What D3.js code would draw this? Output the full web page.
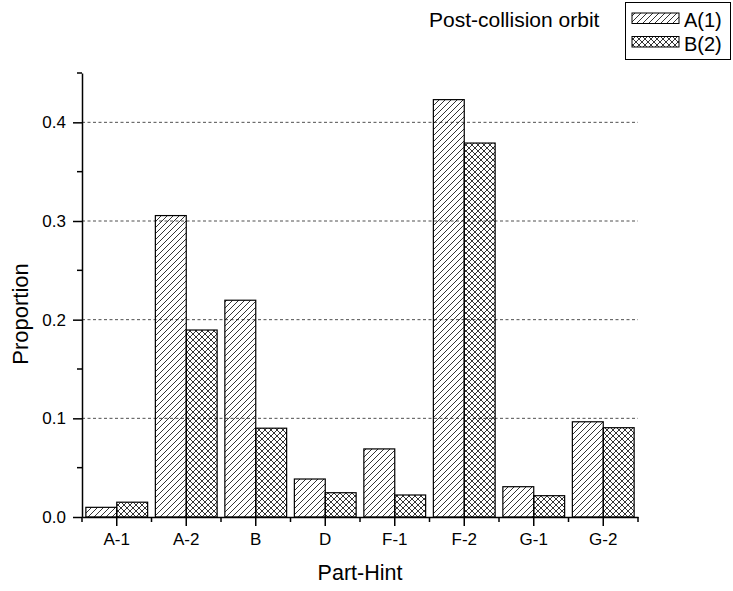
<!DOCTYPE html>
<html>
<head>
<meta charset="utf-8">
<script src="https://cdn.jsdelivr.net/npm/d3@7"></script>
<style>
  body { margin: 0; background: #fff; }
  text { font-family: Arial, "Liberation Sans", sans-serif; fill: #000; }
</style>
</head>
<body>
<div class="chart"></div>
<script>
// data
let categories = ['A-1', 'A-2', 'B', 'D', 'F-1', 'F-2', 'G-1', 'G-2'];
let seriesNames = ['A(1)', 'B(2)'];
let valuesA = [0.0098, 0.3055, 0.2197, 0.0385, 0.0690, 0.4230, 0.0307, 0.0965];
let valuesB = [0.0150, 0.1895, 0.0900, 0.0246, 0.0223, 0.3790, 0.0216, 0.0905];
let yTicks = [0.0, 0.1, 0.2, 0.3, 0.4];
let yMinorTicks = [0.05, 0.15, 0.25, 0.35, 0.45];
let legendTitle = 'Post-collision orbit';

let W = 733, H = 591;
let margin = { top: 73, right: 95, bottom: 74, left: 82 };
let width = W - margin.left - margin.right;
let height = H - margin.top - margin.bottom;

let root = d3.select('.chart')
  .append('svg')
    .attr('width', W)
    .attr('height', H);

// hatch patterns
let defs = root.append('defs');
let pA = defs.append('pattern')
  .attr('id', 'hatchA')
  .attr('patternUnits', 'userSpaceOnUse')
  .attr('width', 6).attr('height', 6);
pA.append('path')
  .attr('d', 'M-1,1 l2,-2 M0,6 l6,-6 M5,7 l2,-2')
  .attr('stroke', '#000').attr('stroke-width', 0.8);

let pB = defs.append('pattern')
  .attr('id', 'hatchB')
  .attr('patternUnits', 'userSpaceOnUse')
  .attr('width', 6).attr('height', 6);
pB.append('path')
  .attr('d', 'M-1,1 l2,-2 M0,6 l6,-6 M5,7 l2,-2 M-1,5 l2,2 M0,0 l6,6 M5,-1 l2,2')
  .attr('stroke', '#000').attr('stroke-width', 0.8);

let fills = ['url(#hatchA)', 'url(#hatchB)'];

let svg = root.append('g')
  .attr('transform', `translate(${margin.left}, ${margin.top})`);

let xScale = d3.scaleBand()
  .domain(categories)
  .range([0, width]);

let xInner = d3.scaleBand()
  .domain(seriesNames)
  .range([0, xScale.bandwidth()])
  .paddingOuter(0.125);

let yScale = d3.scaleLinear()
  .domain([0, 0.45])
  .range([height, 0]);

// dashed grid
svg.selectAll('.grid')
  .data(yTicks.slice(1))
  .enter().append('line')
    .attr('x1', 0).attr('x2', width)
    .attr('y1', d => yScale(d)).attr('y2', d => yScale(d))
    .attr('stroke', '#222')
    .attr('stroke-width', 0.8)
    .attr('stroke-dasharray', '3,2.5');

// bars
let series = [valuesA, valuesB];
let rows = [];
categories.forEach((c, i) => {
  seriesNames.forEach((s, j) => rows.push({ cat: c, s: s, j: j, v: series[j][i] }));
});

svg.selectAll('.bar')
  .data(rows)
  .enter().append('rect')
    .attr('x', d => xScale(d.cat) + xInner(d.s))
    .attr('y', d => yScale(d.v))
    .attr('width', xInner.bandwidth())
    .attr('height', d => height - yScale(d.v))
    .attr('fill', d => fills[d.j])
    .attr('stroke', '#000')
    .attr('stroke-width', 1.2);

// y axis
let yAxis = d3.axisLeft(yScale)
  .tickValues(yTicks)
  .tickFormat(d3.format('.1f'))
  .tickSizeInner(9)
  .tickSizeOuter(0)
  .tickPadding(7);
let gy = svg.append('g').call(yAxis);
gy.select('.domain').attr('stroke-width', 1.5);
gy.selectAll('.tick line').attr('stroke-width', 1.5);
gy.selectAll('.tick text').style('font-size', '17px');
gy.selectAll('.minor')
  .data(yMinorTicks)
  .enter().append('line')
    .attr('x1', -5).attr('x2', 0)
    .attr('y1', d => yScale(d)).attr('y2', d => yScale(d))
    .attr('stroke', '#000').attr('stroke-width', 1.5);

// x axis
let xAxis = d3.axisBottom(xScale)
  .tickSizeInner(9)
  .tickSizeOuter(0)
  .tickPadding(7);
let gx = svg.append('g')
  .attr('transform', `translate(0, ${height})`)
  .call(xAxis);
gx.select('.domain').attr('stroke-width', 1.5);
gx.selectAll('.tick line').attr('stroke-width', 1.5);
gx.selectAll('.tick text').style('font-size', '17px');
gx.selectAll('.minor')
  .data(categories.map(c => xScale(c)).concat([width]))
  .enter().append('line')
    .attr('x1', d => d).attr('x2', d => d)
    .attr('y1', 0).attr('y2', 5)
    .attr('stroke', '#000').attr('stroke-width', 1.5);

// axis titles
svg.append('text')
  .attr('x', width / 2)
  .attr('y', 580 - margin.top)
  .attr('text-anchor', 'middle')
  .style('font-size', '21.5px')
  .text('Part-Hint');

svg.append('text')
  .attr('transform', `translate(${28 - margin.left}, ${314 - margin.top}) rotate(-90)`)
  .attr('text-anchor', 'middle')
  .style('font-size', '22px')
  .text('Proportion');

// legend
let lg = root.append('g');
lg.append('text')
  .attr('x', 429).attr('y', 27)
  .style('font-size', '21px')
  .text(legendTitle);
lg.append('rect')
  .attr('x', 625.5).attr('y', 2.5)
  .attr('width', 105).attr('height', 57)
  .attr('fill', 'none').attr('stroke', '#000');
seriesNames.forEach((s, j) => {
  lg.append('rect')
    .attr('x', 632).attr('y', 13 + j * 23.5)
    .attr('width', 47).attr('height', 10.5)
    .attr('fill', fills[j]).attr('stroke', '#000');
  lg.append('text')
    .attr('x', 684).attr('y', 27 + j * 23.5)
    .style('font-size', '20px')
    .text(s);
});
</script>
</body>
</html>
